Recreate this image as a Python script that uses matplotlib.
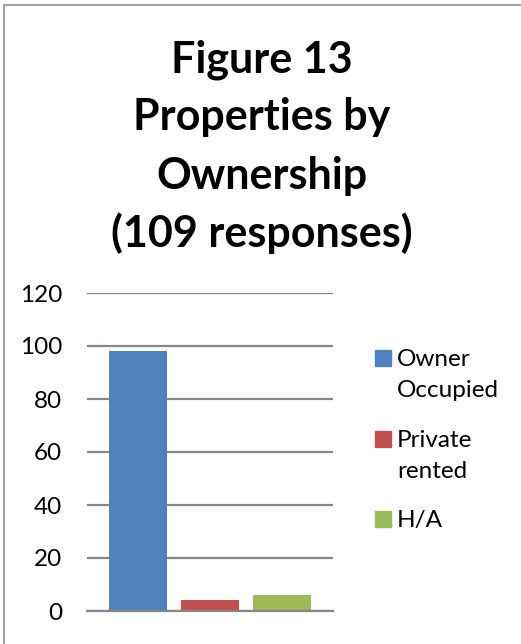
import matplotlib
matplotlib.use("Agg")
import matplotlib.pyplot as plt
from matplotlib.patches import Rectangle
from matplotlib.lines import Line2D

# data
categories = ["Owner Occupied", "Private rented", "H/A"]
counts = [98, 4, 6]
colors = ["#4F81BD", "#C0504D", "#9BBB59"]
title_lines = ["Figure 13", "Properties by", "Ownership", "(109 responses)"]
y_ticks = [0, 20, 40, 60, 80, 100, 120]

W, H = 521, 644
fig = plt.figure(figsize=(W / 100, H / 100), dpi=100)
plt.rcParams['font.family'] = ['Lato', 'DejaVu Sans']

def fx(px):
    return px / W

def fy(py):
    return 1 - py / H

# chart border (left + top only are visible)
fig.add_artist(Line2D([fx(4), fx(4)], [fy(5), fy(H + 5)], color='#a0a0a0', lw=1.5,
                      transform=fig.transFigure))
fig.add_artist(Line2D([fx(4), fx(W + 5)], [fy(5), fy(5)], color='#a0a0a0', lw=1.5,
                      transform=fig.transFigure))

# title, one line at a time
for i, line in enumerate(title_lines):
    fig.text(fx(262), fy(72 + i * 58.3), line, ha='center', va='baseline',
             fontsize=31, fontweight='bold', color='black')

# plot area
ax = fig.add_axes([fx(87), fy(611), fx(333 - 87), (611 - 293) / H])
x = list(range(len(categories)))
ax.bar(x, counts, width=0.806, color=colors, zorder=3)
ax.set_xlim(-0.708, 2.708)
ax.set_ylim(0, 120)
ax.set_yticks(y_ticks)
ax.set_yticklabels([str(t) for t in y_ticks], fontsize=17.5)
ax.tick_params(axis='y', length=0, pad=18)
ax.set_xticks([])
ax.grid(axis='y', color='#868686', linewidth=1.6, zorder=1)
for s in ['left', 'right', 'top']:
    ax.spines[s].set_visible(False)
ax.spines['bottom'].set_color('#868686')
ax.spines['bottom'].set_linewidth(1.6)
ax.spines['bottom'].set_zorder(4)

# legend drawn by hand to match the Excel layout
leg_y = [358, 439, 519]
for cat, col, cy in zip(categories, colors, leg_y):
    fig.add_artist(Rectangle((fx(375), fy(cy + 8)), fx(16), 16 / H, color=col,
                             transform=fig.transFigure))
    lines = cat.split(' ')
    for j, part in enumerate(lines):
        fig.text(fx(397), fy(cy + 8 + j * 31), part, ha='left', va='baseline',
                 fontsize=17.5, color='black')

fig.savefig("out.png", dpi=100)
